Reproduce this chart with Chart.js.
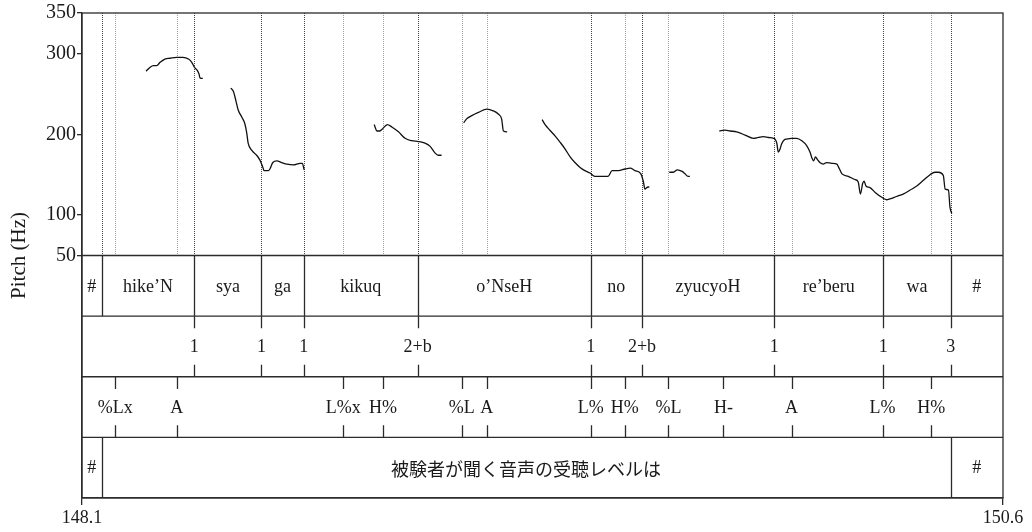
<!DOCTYPE html>
<html>
<head>
<meta charset="utf-8">
<script src="https://cdn.jsdelivr.net/npm/chart.js@4/dist/chart.umd.min.js"></script>
<style>
  html, body { margin: 0; padding: 0; background: #fff; }
  #wrap { width: 1032px; height: 532px; }
</style>
</head>
<body>
<div id="wrap"><canvas id="c" width="1032" height="532"></canvas></div>
<script>
// Time window (s) and pitch ticks (Hz)
const timeStart = 148.1;
const timeEnd = 150.6;
const pitchTicks = [50, 100, 200, 300, 350];

// F0 contour, one pair of arrays per voiced stretch (time in s, F0 in Hz)
const voiced1T  = [148.274, 148.285, 148.294, 148.303, 148.312, 148.325, 148.339, 148.357, 148.374, 148.389, 148.398, 148.405, 148.413, 148.418, 148.420, 148.428];
const voiced1Hz = [278, 283, 285, 285, 289, 293, 294, 295, 295, 293, 289, 283, 279, 274, 270, 269];

const voiced2T  = [148.504, 148.511, 148.518, 148.524, 148.534, 148.542, 148.547, 148.551, 148.561, 148.574, 148.583, 148.591, 148.594, 148.606, 148.610, 148.618, 148.629, 148.642, 148.656, 148.674, 148.692, 148.698, 148.703];
const voiced2Hz = [257, 253, 241, 230, 221, 213, 202, 189, 180, 174, 168, 159, 155, 155, 157, 165, 167, 165, 163, 162, 164, 164, 156];

const voiced3T  = [148.893, 148.901, 148.908, 148.914, 148.929, 148.941, 148.959, 148.977, 148.995, 149.013, 149.031, 149.045, 149.058, 149.067, 149.076];
const voiced3Hz = [212, 204, 204, 206, 212, 209, 203, 195, 192, 191, 189, 185, 177, 174, 174];

const voiced4T  = [149.136, 149.144, 149.158, 149.176, 149.199, 149.216, 149.230, 149.239, 149.244, 149.254];
const voiced4Hz = [214, 219, 223, 227, 231, 229, 225, 219, 204, 203];

const voiced5T  = [149.349, 149.357, 149.370, 149.384, 149.398, 149.411, 149.425, 149.438, 149.452, 149.465, 149.479, 149.492, 149.511, 149.528, 149.539, 149.556, 149.574, 149.588, 149.601, 149.617, 149.624, 149.628, 149.633, 149.640];
const voiced5Hz = [218, 212, 205, 198, 190, 182, 172, 165, 159, 155, 152, 148, 148, 148, 155, 155, 157, 158, 155, 151, 141, 132, 134, 135];

const voiced6T  = [149.694, 149.705, 149.716, 149.729, 149.737, 149.745, 149.750];
const voiced6Hz = [153, 153, 156, 154, 151, 148, 148];

const voiced7T  = [149.830, 149.845, 149.859, 149.877, 149.900, 149.922, 149.936, 149.949, 149.963, 149.977, 149.981, 149.986, 149.990, 149.995, 149.999, 150.006, 150.013, 150.026, 150.040, 150.054, 150.067, 150.076, 150.081, 150.086, 150.091, 150.096, 150.103, 150.112, 150.121, 150.135, 150.149, 150.153, 150.163, 150.180, 150.198, 150.207, 150.213, 150.219, 150.223, 150.228, 150.239, 150.253, 150.271, 150.284, 150.293, 150.311, 150.329, 150.348, 150.366, 150.384, 150.402, 150.415, 150.425, 150.438, 150.443, 150.452, 150.456, 150.461];
const voiced7Hz = [204, 205, 204, 203, 199, 195, 196, 197, 196, 195, 194, 189, 178, 182, 188, 193, 194, 195, 195, 192, 186, 178, 171, 167, 172, 169, 165, 163, 165, 164, 163, 160, 151, 148, 144, 141, 126, 139, 142, 136, 134, 128, 122, 119, 120, 123, 126, 131, 136, 143, 150, 153, 153, 149, 132, 131, 110, 102];

// Word tier (interval tier): inner boundaries and labels
const wordBounds = [148.153, 148.405, 148.587, 148.702, 149.011, 149.481, 149.620, 149.979, 150.275, 150.458];
const wordLabels = ['#', 'hike\u2019N', 'sya', 'ga', 'kikuq', 'o\u2019NseH', 'no', 'zyucyoH', 're\u2019beru', 'wa', '#'];

// Break-index tier (point tier)
const breakTimes  = [148.405, 148.587, 148.702, 149.011, 149.481, 149.620, 149.979, 150.275, 150.458];
const breakLabels = ['1', '1', '1', '2+b', '1', '2+b', '1', '1', '3'];

// Tone tier (point tier)
const toneTimes  = [148.190, 148.357, 148.809, 148.917, 149.131, 149.199, 149.481, 149.573, 149.692, 149.841, 150.026, 150.273, 150.405];
const toneLabels = ['%Lx', 'A', 'L%x', 'H%', '%L', 'A', 'L%', 'H%', '%L', 'H-', 'A', 'L%', 'H%'];

// Sentence tier (interval tier)
const phraseBounds = [148.153, 150.458];
const phraseLabels = ['#', '被験者が聞く音声の受聴レベルは', '#'];

const SERIF = '"Liberation Serif", "DejaVu Serif", serif';
const CJK = '"Noto Sans CJK JP", sans-serif';
const INK = '#1a1a1a';
const FRAME = '#2b2b2b';

const voicedRuns = [
  [voiced1T, voiced1Hz], [voiced2T, voiced2Hz], [voiced3T, voiced3Hz], [voiced4T, voiced4Hz],
  [voiced5T, voiced5Hz], [voiced6T, voiced6Hz], [voiced7T, voiced7Hz]
];

const datasets = voicedRuns.map(([ts, hz]) => ({
  data: ts.map((t, i) => ({ x: t, y: hz[i] })),
  borderColor: '#111',
  borderWidth: 1.3,
  pointRadius: 0,
  tension: 0.3,
  cubicInterpolationMode: 'monotone',
  fill: false
}));

// Tier layout: the pitch panel sits above y = 50 Hz, the four tiers share the rest
const tiersPlugin = {
  id: 'tiers',
  beforeDatasetsDraw(chart) {
    const { ctx, chartArea: a, scales: { x, y } } = chart;
    const base = y.getPixelForValue(50);
    ctx.save();
    ctx.lineWidth = 1;
    ctx.setLineDash([1, 1]);
    const vline = (t, color) => {
      const px = Math.round(x.getPixelForValue(t)) + 0.5;
      ctx.strokeStyle = color;
      ctx.beginPath();
      ctx.moveTo(px, a.top);
      ctx.lineTo(px, base);
      ctx.stroke();
    };
    toneTimes.forEach(t => vline(t, '#a0a0a0'));
    breakTimes.forEach(t => vline(t, '#555'));
    wordBounds.forEach(t => vline(t, '#444'));
    ctx.restore();
  },
  afterDraw(chart) {
    const { ctx, chartArea: a, scales: { x, y } } = chart;
    const base = y.getPixelForValue(50);
    const h = (a.bottom - base) / 4;
    const rowTop = k => base + k * h;
    const px = t => Math.round(x.getPixelForValue(t)) + 0.5;

    ctx.save();
    ctx.strokeStyle = FRAME;
    ctx.lineWidth = 1.3;
    ctx.setLineDash([]);

    // outer frame and tier separators
    ctx.strokeRect(a.left, a.top, a.right - a.left, a.bottom - a.top);
    for (let k = 0; k < 4; k++) {
      ctx.beginPath();
      ctx.moveTo(a.left, rowTop(k));
      ctx.lineTo(a.right, rowTop(k));
      ctx.stroke();
    }

    ctx.fillStyle = INK;
    ctx.textAlign = 'center';
    ctx.textBaseline = 'middle';

    const intervalTier = (k, bounds, labels, font) => {
      const top = rowTop(k), bot = rowTop(k + 1);
      bounds.forEach(t => {
        ctx.beginPath();
        ctx.moveTo(px(t), top);
        ctx.lineTo(px(t), bot);
        ctx.stroke();
      });
      const edges = [a.left, ...bounds.map(t => x.getPixelForValue(t)), a.right];
      labels.forEach((lab, i) => {
        ctx.font = /[\u3000-\u9fff]/.test(lab) ? font.cjk : font.latin;
        ctx.fillText(lab, (edges[i] + edges[i + 1]) / 2, (top + bot) / 2 + 1);
      });
    };

    const pointTier = (k, times, labels) => {
      const top = rowTop(k), bot = rowTop(k + 1);
      const tick = h * 0.2;
      ctx.font = '18px ' + SERIF;
      times.forEach((t, i) => {
        ctx.beginPath();
        ctx.moveTo(px(t), top);
        ctx.lineTo(px(t), top + tick);
        ctx.moveTo(px(t), bot - tick);
        ctx.lineTo(px(t), bot);
        ctx.stroke();
        ctx.fillText(labels[i], x.getPixelForValue(t), (top + bot) / 2 + 1);
      });
    };

    const fonts = { latin: '18px ' + SERIF, cjk: '18px ' + CJK };
    intervalTier(0, wordBounds, wordLabels, fonts);
    pointTier(1, breakTimes, breakLabels);
    pointTier(2, toneTimes, toneLabels);
    intervalTier(3, phraseBounds, phraseLabels, fonts);
    ctx.restore();
  }
};

new Chart(document.getElementById('c'), {
  type: 'line',
  data: { datasets },
  plugins: [tiersPlugin],
  options: {
    responsive: false,
    animation: false,
    devicePixelRatio: 1,
    layout: { padding: { left: 0, top: 12, right: 29, bottom: 0 } },
    plugins: { legend: { display: false }, tooltip: { enabled: false } },
    scales: {
      x: {
        type: 'linear',
        min: timeStart,
        max: timeEnd,
        afterBuildTicks: s => { s.ticks = [timeStart, timeEnd].map(v => ({ value: v })); },
        afterFit: s => { s.height = 34; },
        ticks: {
          autoSkip: false, maxRotation: 0, padding: 2, color: INK,
          font: { family: SERIF, size: 18 },
          callback: v => Number(v).toFixed(1)
        },
        grid: { drawOnChartArea: false, drawTicks: true, tickLength: 7, color: FRAME, lineWidth: 1.3 },
        border: { display: true, color: FRAME, width: 1.3 }
      },
      y: {
        type: 'linear',
        min: -250,
        max: 350,
        afterBuildTicks: s => { s.ticks = pitchTicks.map(v => ({ value: v })); },
        afterFit: s => { s.width = 82; },
        ticks: {
          autoSkip: false, padding: 1, color: INK,
          font: { family: SERIF, size: 20 }
        },
        grid: { drawOnChartArea: false, drawTicks: true, tickLength: 5, color: FRAME, lineWidth: 1.3 },
        border: { display: true, color: FRAME, width: 1.3 },
        title: {
          display: true, text: 'Pitch (Hz)', color: INK,
          font: { family: SERIF, size: 21 }, padding: { top: 7, bottom: 0 }
        }
      }
    }
  }
});
</script>
</body>
</html>
